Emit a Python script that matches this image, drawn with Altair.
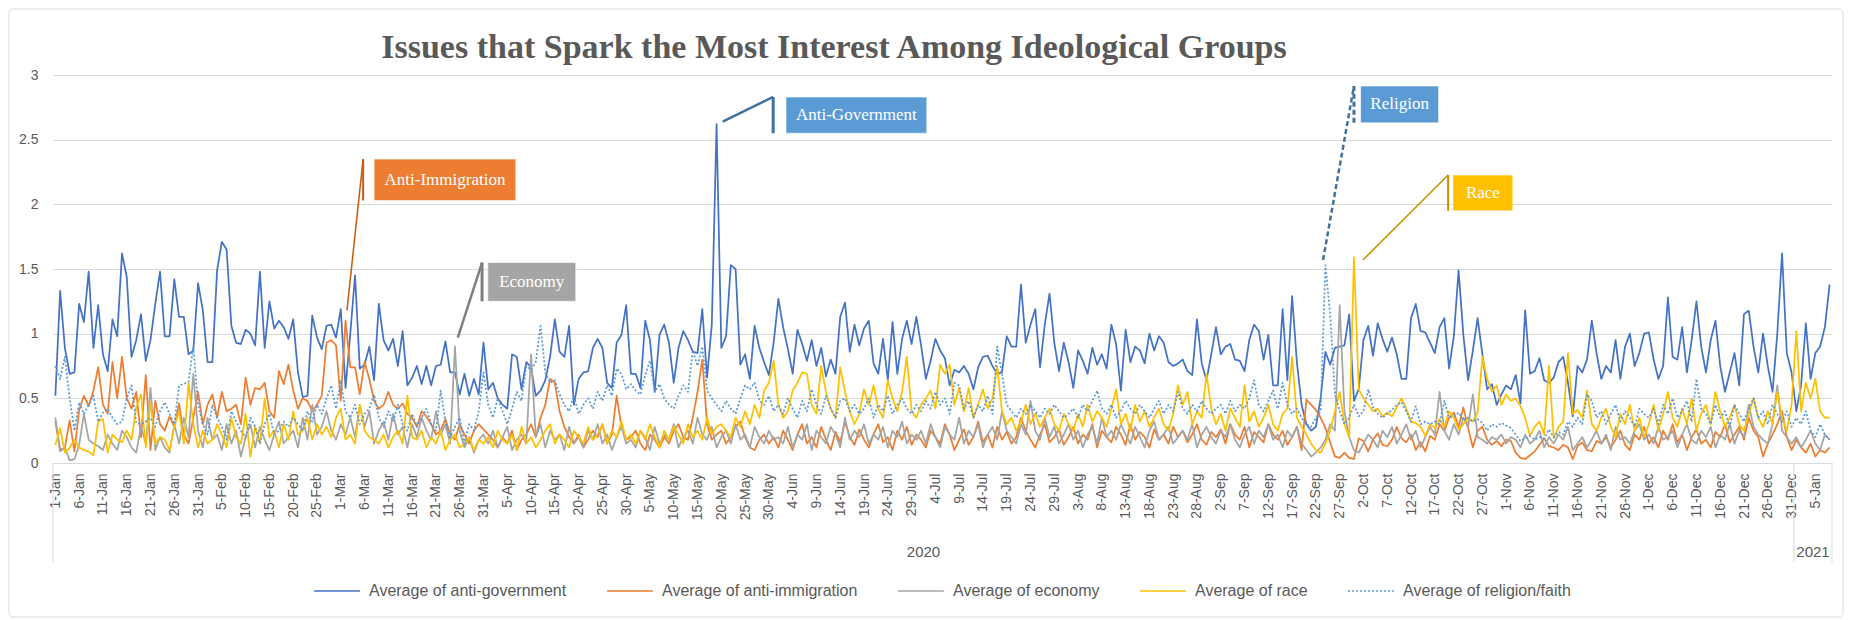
import altair as alt
import pandas as pd

N_DAYS = 374  # 1 Jan 2020 .. 8 Jan 2021
days = list(range(N_DAYS))

series_names = [
    "Average of anti-government",
    "Average of anti-immigration",
    "Average of economy",
    "Average of race",
    "Average of religion/faith",
]
series_colors = ["#4472C4", "#ED7D31", "#A5A5A5", "#FFC000", "#5B9BD5"]
series_dashes = [[1, 0], [1, 0], [1, 0], [1, 0], [2, 2]]

anti_government = [
    # Jan
    0.52, 1.33, 0.89, 0.69, 0.70, 1.23, 1.09, 1.48, 0.89, 1.22,
    0.84, 0.71, 1.11, 0.98, 1.62, 1.44, 0.82, 0.95, 1.15, 0.79,
    0.95, 1.23, 1.48, 0.98, 0.98, 1.42, 1.13, 1.13, 0.84, 0.87,
    1.39,
    # Feb
    1.18, 0.78, 0.78, 1.49, 1.71, 1.65, 1.06, 0.93, 0.92,
    1.03, 1.00, 0.91, 1.48, 0.89, 1.25, 1.04, 1.10, 1.05, 0.96,
    1.11, 0.70, 0.51, 0.52, 1.14, 0.97, 0.88, 1.06, 1.07, 0.97,
    # Mar
    1.19, 0.58, 1.00, 1.45, 0.73, 0.76, 0.90, 0.64, 1.23, 0.95,
    0.87, 0.96, 0.75, 1.02, 0.60, 0.66, 0.75, 0.61, 0.75, 0.60,
    0.75, 0.76, 0.94, 0.70, 0.70, 0.53, 0.69, 0.52, 0.65, 0.53,
    0.93,
    # Apr
    0.57, 0.62, 0.50, 0.45, 0.42, 0.84, 0.82, 0.57, 0.78,
    0.74, 0.52, 0.56, 0.64, 0.82, 1.11, 0.86, 0.82, 1.06, 0.45,
    0.65, 0.70, 0.71, 0.89, 0.96, 0.89, 0.62, 0.58, 0.93, 0.99,
    1.22,
    # May
    0.69, 0.69, 0.58, 1.10, 0.95, 0.55, 0.99, 1.07, 0.93,
    0.62, 0.89, 1.02, 0.95, 0.86, 0.85, 1.19, 0.66, 1.07, 2.62,
    0.89, 0.98, 1.53, 1.50, 0.76, 0.84, 0.65, 1.06, 0.89, 0.78,
    0.68, 0.93,
    # Jun
    1.27, 1.05, 0.88, 0.69, 1.03, 0.92, 0.79, 0.95,
    0.75, 0.89, 0.67, 0.80, 0.69, 1.13, 1.24, 0.86, 1.07, 0.91,
    1.04, 1.10, 0.77, 0.69, 0.96, 0.64, 1.09, 0.69, 0.96, 1.10,
    0.92, 1.13,
    # Jul
    0.91, 0.65, 0.79, 0.96, 0.87, 0.81, 0.60, 0.72,
    0.70, 0.75, 0.69, 0.57, 0.74, 0.82, 0.83, 0.75, 0.69, 0.70,
    0.98, 0.90, 0.90, 1.38, 0.93, 1.07, 1.19, 0.74, 1.07, 1.31,
    0.93, 0.71, 0.93,
    # Aug
    0.78, 0.58, 0.87, 0.79, 0.69, 0.89, 0.76,
    0.84, 0.73, 1.07, 0.92, 0.56, 1.03, 0.78, 0.90, 0.87, 0.77,
    1.00, 0.87, 0.98, 0.93, 0.78, 0.75, 0.77, 0.80, 0.71, 0.68,
    1.11, 0.77, 0.64, 0.84,
    # Sep
    1.05, 0.84, 0.90, 0.92, 0.80, 0.79,
    0.71, 0.95, 1.07, 1.02, 0.80, 0.99, 0.60, 0.60, 1.19, 0.64,
    1.29, 0.78, 0.45, 0.30, 0.25, 0.28, 0.50, 0.86, 0.76, 0.89,
    0.90, 0.91, 1.15, 0.48,
    # Oct
    0.57, 0.95, 1.06, 0.83, 1.08, 0.96,
    0.86, 0.97, 0.84, 0.65, 0.65, 1.12, 1.23, 1.02, 1.01, 0.93,
    0.85, 1.05, 1.12, 0.73, 0.98, 1.49, 0.99, 0.64, 0.87, 1.12,
    0.84, 0.57, 0.61, 0.45, 0.53,
    # Nov
    0.60, 0.57, 0.68, 0.46, 1.18,
    0.69, 0.71, 0.81, 0.64, 0.62, 0.66, 0.78, 0.82, 0.62, 0.36,
    0.75, 0.70, 0.80, 1.10, 0.85, 0.65, 0.75, 0.70, 0.95, 0.65,
    0.90, 1.00, 0.75, 0.85, 1.00,
    # Dec
    1.01, 0.80, 0.65, 0.75, 1.28,
    0.82, 0.80, 1.05, 0.70, 0.95, 1.25, 0.90, 0.70, 0.95, 1.10,
    0.75, 0.55, 0.70, 0.85, 0.60, 1.15, 1.18, 0.90, 0.70, 1.00,
    0.75, 0.55, 1.00, 1.62, 0.85, 0.70,
    # Jan 2021
    0.40, 0.60, 1.08, 0.65, 0.85, 0.90, 1.05, 1.38,
]

anti_immigration = [
    # Jan
    0.32, 0.10, 0.12, 0.33, 0.09, 0.41, 0.52, 0.44, 0.56, 0.74,
    0.45, 0.38, 0.78, 0.50, 0.82, 0.50, 0.42, 0.55, 0.20, 0.68,
    0.10, 0.48, 0.30, 0.25, 0.36, 0.28, 0.46, 0.22, 0.15, 0.35,
    0.55,
    # Feb
    0.30, 0.45, 0.53, 0.35, 0.55, 0.40, 0.42, 0.45, 0.30,
    0.66, 0.45, 0.58, 0.57, 0.62, 0.40, 0.35, 0.71, 0.61, 0.76,
    0.56, 0.42, 0.50, 0.48, 0.40, 0.45, 0.52, 0.93, 0.95, 0.91,
    # Mar
    0.48, 1.10, 0.74, 0.74, 0.53, 0.78, 0.65, 0.48, 0.42, 0.45,
    0.55, 0.45, 0.42, 0.46, 0.38, 0.35, 0.28, 0.40, 0.36, 0.30,
    0.22, 0.25, 0.34, 0.22, 0.18, 0.30, 0.22, 0.15, 0.25, 0.30,
    0.26,
    # Apr
    0.22, 0.18, 0.12, 0.20, 0.15, 0.25, 0.10, 0.18, 0.22,
    0.30, 0.20, 0.35, 0.45, 0.65, 0.62, 0.40, 0.28, 0.20, 0.15,
    0.22, 0.12, 0.18, 0.25, 0.20, 0.30, 0.15, 0.22, 0.52, 0.28,
    0.18,
    # May
    0.20, 0.25, 0.15, 0.10, 0.22, 0.18, 0.12, 0.20, 0.15,
    0.25, 0.30, 0.20, 0.18, 0.35, 0.55, 0.80, 0.30, 0.18, 0.22,
    0.25, 0.15, 0.20, 0.28, 0.32, 0.20, 0.12, 0.10, 0.18, 0.22,
    0.15, 0.20,
    # Jun
    0.12, 0.25, 0.18, 0.10, 0.22, 0.30, 0.15, 0.20, 0.12, 0.28,
    0.18, 0.10, 0.24, 0.16, 0.32, 0.20, 0.14, 0.26, 0.18, 0.12,
    0.22, 0.30, 0.16, 0.20, 0.10, 0.25, 0.18, 0.28, 0.14, 0.22,
    # Jul
    0.18, 0.12, 0.25, 0.20, 0.15, 0.30, 0.22, 0.10, 0.18, 0.26,
    0.14, 0.20, 0.32, 0.16, 0.22, 0.12, 0.28, 0.18, 0.24, 0.15,
    0.20, 0.35, 0.25, 0.18, 0.12, 0.22, 0.30, 0.16, 0.20, 0.26,
    0.14,
    # Aug
    0.20, 0.28, 0.15, 0.22, 0.18, 0.30, 0.12, 0.25, 0.20, 0.16,
    0.28, 0.22, 0.14, 0.30, 0.18, 0.24, 0.20, 0.12, 0.26, 0.18,
    0.22, 0.15, 0.28, 0.20, 0.25, 0.16, 0.22, 0.30, 0.18, 0.14,
    0.24,
    # Sep
    0.20, 0.26, 0.15, 0.30, 0.22, 0.18, 0.28, 0.12, 0.24, 0.20,
    0.16, 0.30, 0.22, 0.18, 0.25, 0.14, 0.20, 0.28, 0.10, 0.49,
    0.45, 0.41, 0.35, 0.27, 0.16, 0.05, 0.04, 0.08, 0.04, 0.03,
    # Oct
    0.19, 0.17, 0.09, 0.18, 0.23, 0.14,
    0.13, 0.18, 0.28, 0.19, 0.16, 0.22, 0.10, 0.16, 0.09, 0.21,
    0.18, 0.30, 0.25, 0.35, 0.39, 0.28, 0.43, 0.27, 0.12, 0.25,
    0.28, 0.18, 0.14, 0.17, 0.13,
    # Nov
    0.18, 0.17, 0.08, 0.04, 0.03,
    0.06, 0.09, 0.14, 0.19, 0.13, 0.12, 0.10, 0.14, 0.12, 0.03,
    0.13, 0.16, 0.10, 0.09, 0.17, 0.15, 0.20, 0.12, 0.18, 0.25,
    0.14, 0.10, 0.22, 0.18, 0.28,
    # Dec
    0.15, 0.20, 0.12, 0.25, 0.18,
    0.30, 0.16, 0.22, 0.10, 0.20, 0.26, 0.15, 0.18, 0.12, 0.24,
    0.20, 0.30, 0.16, 0.22, 0.28, 0.18, 0.35, 0.25, 0.20, 0.05,
    0.15, 0.22, 0.30, 0.40, 0.20, 0.10,
    # Jan 2021
    0.18, 0.12, 0.08, 0.15, 0.05, 0.10, 0.08, 0.12,
]

economy = [
    # Jan
    0.35, 0.09, 0.12, 0.02, 0.03, 0.14, 0.38, 0.18, 0.15, 0.13,
    0.10, 0.22, 0.15, 0.10, 0.25, 0.20, 0.12, 0.08, 0.28, 0.15,
    0.58, 0.10, 0.20, 0.12, 0.08, 0.30, 0.15, 0.35, 0.20, 0.69,
    0.25,
    # Feb
    0.12, 0.35, 0.18, 0.22, 0.10, 0.30, 0.15, 0.25, 0.05,
    0.20, 0.30, 0.12, 0.28, 0.18, 0.10, 0.22, 0.32, 0.15, 0.20,
    0.25, 0.12, 0.35, 0.18, 0.45, 0.22, 0.28, 0.40, 0.25, 0.18,
    # Mar
    0.30, 0.22, 0.35, 0.20, 0.45, 0.28, 0.40, 0.15, 0.25, 0.32,
    0.18, 0.38, 0.22, 0.28, 0.12, 0.30, 0.20, 0.35, 0.25, 0.18,
    0.40, 0.22, 0.30, 0.15, 0.90, 0.25, 0.12, 0.20, 0.08, 0.18,
    0.22,
    # Apr
    0.15, 0.25, 0.12, 0.20, 0.28, 0.10, 0.18, 0.22, 0.15,
    0.84, 0.20, 0.30, 0.12, 0.25, 0.18, 0.22, 0.10, 0.28, 0.15,
    0.20, 0.12, 0.25, 0.18, 0.30, 0.15, 0.22, 0.10, 0.20, 0.28,
    0.15,
    # May
    0.18, 0.12, 0.25, 0.20, 0.10, 0.28, 0.15, 0.22, 0.18,
    0.30, 0.12, 0.20, 0.25, 0.15, 0.35, 0.22, 0.18, 0.28, 0.12,
    0.20, 0.25, 0.15, 0.30, 0.18, 0.22, 0.12, 0.28, 0.20, 0.15,
    0.25, 0.18,
    # Jun
    0.20, 0.15, 0.28, 0.12, 0.22, 0.18, 0.30, 0.10, 0.25, 0.20,
    0.15, 0.28, 0.22, 0.12, 0.35, 0.18, 0.25, 0.20, 0.30, 0.15,
    0.22, 0.18, 0.28, 0.12, 0.25, 0.20, 0.32, 0.15, 0.22, 0.18,
    # Jul
    0.25, 0.15, 0.30, 0.20, 0.12, 0.28, 0.22, 0.18, 0.35, 0.15,
    0.25, 0.20, 0.30, 0.12, 0.22, 0.28, 0.18, 0.40, 0.25, 0.20,
    0.15, 0.30, 0.22, 0.48, 0.25, 0.18, 0.35, 0.20, 0.28, 0.15,
    0.22,
    # Aug
    0.30, 0.18, 0.25, 0.12, 0.22, 0.28, 0.15, 0.35, 0.20, 0.25,
    0.18, 0.30, 0.22, 0.15, 0.28, 0.20, 0.12, 0.25, 0.32, 0.18,
    0.22, 0.28, 0.15, 0.20, 0.25, 0.18, 0.30, 0.12, 0.22, 0.28,
    0.20,
    # Sep
    0.15, 0.25, 0.20, 0.30, 0.18, 0.12,
    0.22, 0.28, 0.15, 0.25, 0.20, 0.30, 0.18, 0.22, 0.12, 0.25,
    0.20, 0.28, 0.15, 0.10, 0.05, 0.08, 0.12, 0.18, 0.30, 0.25,
    1.22, 0.40, 0.20, 0.10,
    # Oct
    0.08, 0.15, 0.22, 0.18, 0.12, 0.25,
    0.20, 0.28, 0.15, 0.22, 0.30, 0.18, 0.25, 0.12, 0.20, 0.28,
    0.22, 0.55, 0.25, 0.18, 0.30, 0.22, 0.35, 0.28, 0.53, 0.20,
    0.18, 0.15, 0.20, 0.18, 0.22,
    # Nov
    0.15, 0.20, 0.18, 0.12, 0.22,
    0.15, 0.18, 0.25, 0.12, 0.20, 0.15, 0.22, 0.18, 0.28, 0.10,
    0.15, 0.20, 0.12, 0.18, 0.25, 0.15, 0.22, 0.10, 0.28, 0.18,
    0.20, 0.15, 0.25, 0.30, 0.18,
    # Dec
    0.22, 0.15, 0.28, 0.18, 0.20,
    0.25, 0.12, 0.22, 0.30, 0.18, 0.15, 0.25, 0.20, 0.28, 0.12,
    0.22, 0.18, 0.30, 0.15, 0.25, 0.20, 0.45, 0.28, 0.22, 0.18,
    0.15, 0.30, 0.60, 0.25, 0.20, 0.15,
    # Jan 2021
    0.20, 0.12, 0.18, 0.25, 0.15, 0.10, 0.22, 0.18,
]

race = [
    # Jan
    0.14, 0.27, 0.08, 0.12, 0.18, 0.12, 0.10, 0.09, 0.06, 0.32,
    0.34, 0.08, 0.22, 0.18, 0.16, 0.25, 0.18, 0.43, 0.53, 0.12,
    0.47, 0.15, 0.20, 0.18, 0.10, 0.28, 0.40, 0.15, 0.62, 0.30,
    0.12,
    # Feb
    0.25, 0.15, 0.18, 0.30, 0.22, 0.12, 0.35, 0.20, 0.15,
    0.38, 0.05, 0.28, 0.15, 0.50, 0.20, 0.25, 0.12, 0.30, 0.18,
    0.40, 0.22, 0.25, 0.35, 0.18, 0.30, 0.22, 0.28, 0.20, 0.35,
    # Mar
    0.42, 0.18, 0.22, 0.15, 0.45, 0.25, 0.20, 0.18, 0.15, 0.22,
    0.12, 0.20, 0.25, 0.15, 0.52, 0.20, 0.18, 0.25, 0.12, 0.20,
    0.15, 0.25, 0.10, 0.18, 0.22, 0.12, 0.15, 0.20, 0.10, 0.18,
    0.15,
    # Apr
    0.20, 0.12, 0.25, 0.18, 0.15, 0.22, 0.10, 0.28, 0.15,
    0.20, 0.12, 0.18, 0.25, 0.30, 0.15, 0.22, 0.18, 0.12, 0.25,
    0.20, 0.15, 0.28, 0.18, 0.22, 0.30, 0.15, 0.25, 0.20, 0.32,
    0.18,
    # May
    0.22, 0.15, 0.25, 0.18, 0.30, 0.20, 0.12, 0.25, 0.18,
    0.28, 0.22, 0.15, 0.30, 0.20, 0.25, 0.18, 0.35, 0.22, 0.28,
    0.30, 0.25, 0.20, 0.35, 0.28, 0.40, 0.30, 0.45, 0.35, 0.56,
    0.62, 0.79,
    # Jun
    0.45, 0.35, 0.40, 0.56, 0.62, 0.70, 0.69, 0.45,
    0.38, 0.75, 0.55, 0.42, 0.35, 0.74, 0.55, 0.40, 0.30, 0.38,
    0.57, 0.45, 0.60, 0.42, 0.35, 0.64, 0.50, 0.40, 0.55, 0.82,
    0.40, 0.35,
    # Jul
    0.45, 0.50, 0.56, 0.42, 0.76, 0.69, 0.76, 0.45,
    0.58, 0.40, 0.58, 0.35, 0.45, 0.57, 0.42, 0.50, 0.75, 0.40,
    0.30, 0.35, 0.25, 0.32, 0.45, 0.30, 0.38, 0.28, 0.35, 0.42,
    0.30, 0.25, 0.38,
    # Aug
    0.30, 0.25, 0.38, 0.28, 0.45, 0.32, 0.40,
    0.35, 0.28, 0.42, 0.57, 0.30, 0.38, 0.25, 0.45, 0.32, 0.40,
    0.28, 0.35, 0.42, 0.30, 0.25, 0.38, 0.60, 0.45, 0.55, 0.30,
    0.40, 0.35, 0.69, 0.42,
    # Sep
    0.30, 0.38, 0.25, 0.42, 0.35, 0.28,
    0.60, 0.32, 0.40, 0.28, 0.35, 0.45, 0.30, 0.25, 0.38, 0.42,
    0.82, 0.35, 0.28, 0.22, 0.15, 0.10, 0.08, 0.15, 0.25, 0.40,
    0.55, 0.30, 0.20, 1.59,
    # Oct
    0.57, 0.50, 0.45, 0.40, 0.42, 0.36,
    0.39, 0.36, 0.43, 0.50, 0.42, 0.32, 0.31, 0.28, 0.21, 0.30,
    0.27, 0.34, 0.28, 0.40, 0.35, 0.26, 0.30, 0.35, 0.32, 0.39,
    0.82, 0.65, 0.55, 0.60, 0.45,
    # Nov
    0.53, 0.48, 0.50, 0.44, 0.35,
    0.21, 0.28, 0.32, 0.22, 0.75, 0.19, 0.28, 0.32, 0.85, 0.38,
    0.41, 0.35, 0.56, 0.30, 0.25, 0.35, 0.42, 0.28, 0.20, 0.38,
    0.30, 0.45, 0.25, 0.35, 0.20,
    # Dec
    0.30, 0.45, 0.25, 0.38, 0.55,
    0.35, 0.28, 0.42, 0.30, 0.50, 0.25, 0.38, 0.45, 0.30, 0.55,
    0.40, 0.28, 0.35, 0.45, 0.30, 0.25, 0.38, 0.50, 0.35, 0.28,
    0.40, 0.30, 0.55, 0.35, 0.25, 0.45,
    # Jan 2021
    1.02, 0.40, 0.62, 0.50, 0.65, 0.40, 0.35, 0.35,
]

religion_faith = [
    # Jan
    0.75, 0.65, 0.82, 0.50, 0.25, 0.47, 0.38, 0.45, 0.52, 0.32,
    0.39, 0.42, 0.35, 0.30, 0.32, 0.50, 0.60, 0.31, 0.30, 0.32,
    0.35, 0.28, 0.40, 0.47, 0.38, 0.30, 0.60, 0.61, 0.63, 0.90,
    0.45,
    # Feb
    0.30, 0.22, 0.45, 0.35, 0.28, 0.18, 0.40, 0.32, 0.25,
    0.20, 0.35, 0.28, 0.15, 0.30, 0.38, 0.22, 0.25, 0.32, 0.28,
    0.35, 0.30, 0.25, 0.40, 0.32, 0.45, 0.38, 0.50, 0.60, 0.42,
    # Mar
    0.64, 0.40, 0.35, 0.45, 0.30, 0.38, 0.42, 0.53, 0.35, 0.28,
    0.40, 0.32, 0.45, 0.30, 0.25, 0.38, 0.28, 0.35, 0.42, 0.30,
    0.25, 0.56, 0.32, 0.20, 0.28, 0.35, 0.15, 0.30, 0.25, 0.40,
    0.70,
    # Apr
    0.45, 0.35, 0.50, 0.40, 0.30, 0.42, 0.55, 0.48, 0.75,
    0.72, 0.78, 1.06, 0.70, 0.62, 0.64, 0.53, 0.45, 0.40, 0.52,
    0.38, 0.45, 0.50, 0.42, 0.55, 0.48, 0.60, 0.52, 0.73, 0.69,
    0.57,
    # May
    0.61, 0.56, 0.53, 0.68, 0.79, 0.55, 0.61, 0.50, 0.45,
    0.42, 0.52, 0.60, 0.55, 0.87, 0.75, 0.90, 0.56, 0.50, 0.45,
    0.40, 0.48, 0.42, 0.38, 0.50, 0.60, 0.57, 0.62, 0.48, 0.45,
    0.52, 0.40,
    # Jun
    0.45, 0.38, 0.50, 0.42, 0.35, 0.48, 0.40, 0.57,
    0.45, 0.38, 0.52, 0.42, 0.35, 0.48, 0.50, 0.40, 0.45, 0.38,
    0.42, 0.50, 0.35, 0.45, 0.40, 0.52, 0.38, 0.45, 0.50, 0.42,
    0.38, 0.45,
    # Jul
    0.40, 0.48, 0.42, 0.55, 0.45, 0.50, 0.38, 0.62,
    0.60, 0.42, 0.48, 0.35, 0.45, 0.40, 0.52, 0.38, 0.90, 0.69,
    0.45, 0.40, 0.35, 0.42, 0.38, 0.45, 0.40, 0.35, 0.42, 0.38,
    0.45, 0.40, 0.35,
    # Aug
    0.38, 0.42, 0.35, 0.45, 0.40, 0.48, 0.56,
    0.42, 0.38, 0.45, 0.35, 0.40, 0.48, 0.42, 0.38, 0.45, 0.40,
    0.35, 0.42, 0.48, 0.38, 0.45, 0.40, 0.55, 0.42, 0.38, 0.45,
    0.40, 0.48, 0.42, 0.38,
    # Sep
    0.42, 0.45, 0.38, 0.48, 0.40, 0.45,
    0.42, 0.50, 0.64, 0.45, 0.40, 0.48, 0.56, 0.42, 0.62, 0.45,
    0.38, 0.42, 0.35, 0.30, 0.28, 0.35, 0.40, 1.53, 1.15, 0.53,
    0.40, 0.30, 0.35, 0.45,
    # Oct
    0.36, 0.40, 0.57, 0.43, 0.38, 0.35,
    0.38, 0.41, 0.45, 0.47, 0.40, 0.32, 0.44, 0.30, 0.32, 0.30,
    0.32, 0.30, 0.48, 0.35, 0.36, 0.39, 0.33, 0.35, 0.32, 0.34,
    0.31, 0.25, 0.30, 0.28, 0.31,
    # Nov
    0.29, 0.27, 0.22, 0.17, 0.19,
    0.21, 0.18, 0.20, 0.19, 0.26, 0.20, 0.24, 0.22, 0.32, 0.28,
    0.35, 0.30, 0.53, 0.48, 0.35, 0.40, 0.30, 0.38, 0.45, 0.32,
    0.40, 0.35, 0.28, 0.42, 0.38,
    # Dec
    0.35, 0.42, 0.30, 0.45, 0.38,
    0.50, 0.35, 0.40, 0.48, 0.32, 0.65, 0.42, 0.38, 0.30, 0.45,
    0.35, 0.40, 0.28, 0.45, 0.38, 0.32, 0.42, 0.50, 0.35, 0.40,
    0.30, 0.45, 0.38, 0.32, 0.40, 0.28,
    # Jan 2021
    0.35, 0.30, 0.40, 0.25, 0.20, 0.30, 0.22, 0.18,
]

series_values = [anti_government, anti_immigration, economy, race, religion_faith]
for nm, vals in zip(series_names, series_values):
    assert len(vals) == N_DAYS, (nm, len(vals))

chart_title = "Issues that Spark the Most Interest Among Ideological Groups"

# year groups of the two-level category axis
year_labels = ["2020", "2021"]
year_first_day = [0, 366]
year_last_day = [365, 373]

# callouts (label, series colour, anchored in data units: day / value)
callout_labels = ["Anti-Immigration", "Economy", "Anti-Government", "Religion", "Race"]
callout_fill = ["#ED7D31", "#A5A5A5", "#5B9BD5", "#5B9BD5", "#FFC000"]
callout_line = ["#C55A11", "#7F7F7F", "#41719C", "#41719C", "#BF9000"]
callout_box_d1 = [67.0, 90.9, 153.6, 274.4, 293.8]
callout_box_d2 = [96.8, 109.4, 183.2, 290.8, 306.4]
callout_box_v1 = [2.03, 1.25, 2.55, 2.63, 1.95]
callout_box_v2 = [2.35, 1.55, 2.83, 2.915, 2.227]
callout_pt_d = [61.3, 84.6, 140.3, 266.5, 274.9]
callout_pt_v = [1.18, 0.97, 2.64, 1.57, 1.57]
callout_tick_d = [64.7, 89.7, 150.9, 273.0, 292.8]
callout_width = [1.5, 2.5, 2.5, 2.5, 1.5]
callout_dashed = [False, False, False, True, False]

# ---------------------------------------------------------------- tables
rows = []
for nm, vals in zip(series_names, series_values):
    for d, v in zip(days, vals):
        rows.append({"day": d, "series": nm, "value": v})
df = pd.DataFrame(rows)

years_df = pd.DataFrame({
    "year": year_labels,
    "day": [(a + b) / 2 for a, b in zip(year_first_day, year_last_day)],
})
sep_df = pd.DataFrame({"day": [year_first_day[0] - 0.5] + [b + 0.5 for b in year_last_day]})

box_df = pd.DataFrame({
    "label": callout_labels, "fill": callout_fill,
    "day": callout_box_d1, "day2": callout_box_d2,
    "value": callout_box_v1, "value2": callout_box_v2,
})
box_df["dm"] = (box_df["day"] + box_df["day2"]) / 2
box_df["vm"] = (box_df["value"] + box_df["value2"]) / 2

seg_rows = []
for i in range(len(callout_labels)):
    # leader from the data point to the box
    seg_rows.append({"day": callout_pt_d[i], "value": callout_pt_v[i],
                     "day2": callout_tick_d[i], "value2": callout_box_v2[i],
                     "color": callout_line[i], "w": callout_width[i],
                     "dashed": callout_dashed[i]})
    # short vertical bar beside the box
    seg_rows.append({"day": callout_tick_d[i], "value": callout_box_v1[i],
                     "day2": callout_tick_d[i], "value2": callout_box_v2[i],
                     "color": callout_line[i], "w": callout_width[i] + 0.5,
                     "dashed": callout_dashed[i]})
seg_df = pd.DataFrame(seg_rows)

# ---------------------------------------------------------------- chart
W, H = 1779, 388
PAD_L, PAD_T, PAD_R, PAD_B = 45, 67, 12, 155
FONT = "Liberation Sans"
GREY_TXT = "#595959"
GRID = "#D9D9D9"

xs = alt.Scale(domain=[-0.5, N_DAYS - 0.5], nice=False, zero=False)
ys = alt.Scale(domain=[0, 3], nice=False)

x_axis = alt.Axis(
    values=list(range(0, N_DAYS, 5)),
    labelExpr="timeFormat(datetime(2020, 0, 1 + datum.value), '%-d-%b')",
    labelAngle=270, labelFont=FONT, labelFontSize=14, labelColor=GREY_TXT,
    labelPadding=10, labelOverlap=False, ticks=False, grid=False,
    domainColor=GRID, title=None,
)
y_axis = alt.Axis(
    values=[0, 0.5, 1, 1.5, 2, 2.5, 3], format="~g",
    labelFont=FONT, labelFontSize=14, labelColor=GREY_TXT, labelPadding=15,
    domain=False, ticks=False, grid=True, gridColor=GRID, title=None,
)

legend = alt.Legend(
    title=None, orient="none", legendX=260, legendY=492, direction="horizontal",
    symbolType="stroke", symbolSize=2100, symbolStrokeWidth=1.5,
    labelFont=FONT, labelFontSize=16, labelColor=GREY_TXT,
    labelOffset=8, columnPadding=37, labelLimit=400,
)

def X(field="day"):
    return alt.X(f"{field}:Q", scale=xs, axis=x_axis)

def Y(field="value"):
    return alt.Y(f"{field}:Q", scale=ys, axis=y_axis)

frame = alt.Chart(pd.DataFrame({"f": [0]})).mark_rect(
    fill=None, stroke=GRID, strokeWidth=1, cornerRadius=4,
).encode(
    x=alt.value(-PAD_L + 1), x2=alt.value(W + PAD_R - 1),
    y=alt.value(-PAD_T + 1), y2=alt.value(H + PAD_B - 1),
)

lines = alt.Chart(df).mark_line(strokeWidth=1.75, strokeJoin="round").encode(
    x=X(), y=Y(),
    color=alt.Color("series:N", scale=alt.Scale(domain=series_names, range=series_colors),
                    legend=legend),
    strokeDash=alt.StrokeDash("series:N", scale=alt.Scale(domain=series_names, range=series_dashes),
                              legend=legend),
    order="day:Q",
)

seps = alt.Chart(sep_df).mark_rule(color=GRID, strokeWidth=1).encode(
    x=X(), y=alt.value(H), y2=alt.value(H + 99),
)

years = alt.Chart(years_df).mark_text(font=FONT, fontSize=15, color=GREY_TXT, baseline="middle").encode(
    x=X(), y=alt.value(477), text="year:N",
)

title_df = pd.DataFrame({"t": [chart_title]})
title = alt.Chart(title_df).mark_text(
    font="Liberation Serif", fontSize=34, fontWeight="bold", color=GREY_TXT,
    align="center", baseline="alphabetic",
).encode(x=alt.value(781), y=alt.value(-17), text="t:N")

solid_segs = alt.Chart(seg_df[~seg_df["dashed"]]).mark_rule().encode(
    x=X(), x2="day2:Q", y=Y(), y2="value2:Q",
    color=alt.Color("color:N", scale=None),
    strokeWidth=alt.StrokeWidth("w:Q", scale=None),
)
dashed_segs = alt.Chart(seg_df[seg_df["dashed"]]).mark_rule(strokeDash=[5, 3]).encode(
    x=X(), x2="day2:Q", y=Y(), y2="value2:Q",
    color=alt.Color("color:N", scale=None),
    strokeWidth=alt.StrokeWidth("w:Q", scale=None),
)

boxes = alt.Chart(box_df).mark_rect(stroke="#FFFFFF", strokeWidth=1, strokeOpacity=0.6).encode(
    x=X(), x2="day2:Q", y=Y(), y2="value2:Q",
    fill=alt.Fill("fill:N", scale=None),
)
box_text = alt.Chart(box_df).mark_text(font="Liberation Serif", fontSize=17, color="#FFFFFF",
                                       baseline="middle", align="center").encode(
    x=X("dm"), y=Y("vm"), text="label:N",
)

chart = alt.layer(frame, lines, seps, years, solid_segs, dashed_segs, boxes, box_text, title).properties(
    width=W, height=H,
    padding={"left": PAD_L, "top": PAD_T, "right": PAD_R, "bottom": PAD_B},
    autosize=alt.AutoSizeParams(type="none"),
    background="#FFFFFF",
).configure_view(stroke=None)

chart.save("out.html", embed_options={"renderer": "svg", "actions": False})
